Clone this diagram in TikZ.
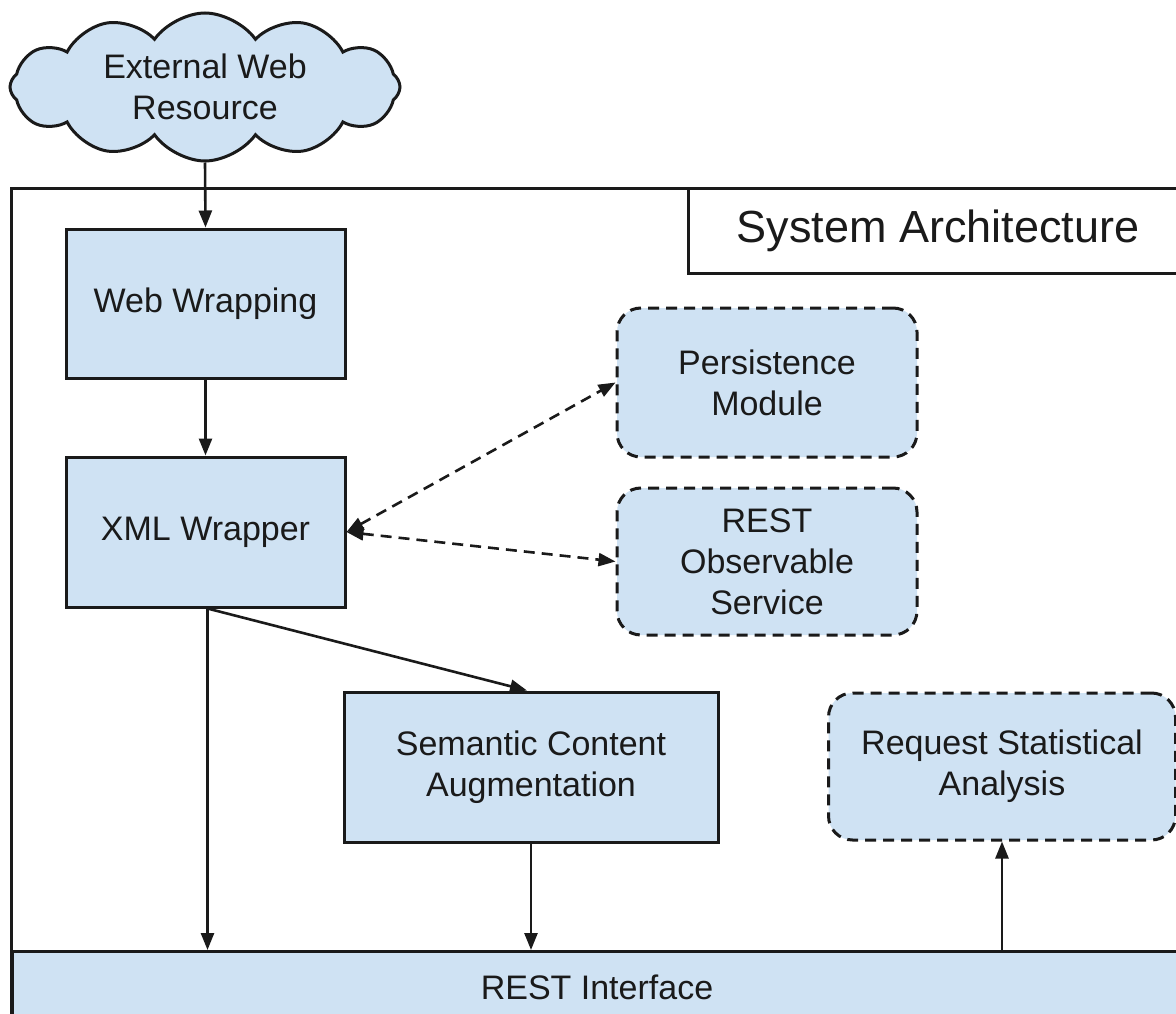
\documentclass[tikz,border=0pt]{standalone}
\usepackage{fontspec}
\setmainfont{Liberation Sans}
\usetikzlibrary{shapes.symbols,arrows.meta,calc}
\definecolor{boxfill}{HTML}{CFE2F3}
\definecolor{ink}{HTML}{1A1A1A}
\begin{document}
\begin{tikzpicture}[x=1pt,y=-1pt,
  font=\fontsize{34}{41}\selectfont,
  box/.style={draw=ink, line width=3pt, fill=boxfill, text=ink, align=center, inner sep=0pt},
  dashbox/.style={box, rounded corners=24pt, dash pattern=on 11pt off 7pt, line width=3pt},
  tip/.tip={Triangle[length=17pt,width=13pt]},
  arr/.style={draw=ink, line width=2.6pt, -tip},
  darr/.style={draw=ink, line width=2.6pt, dash pattern=on 11pt off 7pt, tip-tip},
]
\useasboundingbox (0,0) rectangle (1176,1014);
\clip (0,0) rectangle (1176,1014);
\fill[white] (0,0) rectangle (1176,1014);

% outer frame
\draw[ink, line width=3pt] (11,189) rectangle (1220,1060);
% title box
\draw[ink, line width=3pt] (688,189) rectangle (1220,273);
\node[text=ink, font=\fontsize{45}{50}\selectfont] (title) at (938,231) {System Architecture};

% cloud
\node[cloud, cloud puffs=12, cloud puff arc=110, aspect=2.6, draw=ink, line width=3pt,
      fill=boxfill, text=ink, align=center, minimum width=390pt, minimum height=148pt, inner sep=0pt]
      (cloud) at (205,87) {External Web\\Resource};

% blocks
\node[box, minimum width=279pt, minimum height=149pt] (web) at (205.5,303.5) {Web Wrapping};
\node[box, minimum width=279pt, minimum height=150pt] (xml) at (205.5,532) {XML Wrapper};
\node[dashbox, minimum width=300pt, minimum height=149pt] (persist) at (767,382.5) {Persistence\\Module};
\node[dashbox, minimum width=300pt, minimum height=147pt] (restobs) at (767,561.5) {REST\\Observable\\Service};
\node[box, minimum width=374pt, minimum height=150pt] (sem) at (531,767) {Semantic Content\\Augmentation};
\node[dashbox, minimum width=347pt, minimum height=147pt] (req) at (1002,766.5) {Request Statistical\\Analysis};
\node[box, minimum width=1200pt, minimum height=90pt, anchor=north west] (restif) at (11,950) {};
\node[text=ink] (restlabel) at (597,987) {REST Interface};

% helper coordinates
\coordinate (xs) at ($(xml.south)+(2,0)$);
\coordinate (xe) at (xs |- restif.north);
\coordinate (sn) at ($(sem.north)+(-4,0)$);

% connectors
\draw[arr] (cloud.south) -- (web.north);
\draw[arr] (web.south) -- (xml.north);
\draw[arr] (xs) -- (xe);
\draw[arr] (xs) -- (sn);
\draw[arr] (sem.south) -- (sem.south |- restif.north);
\draw[arr] (req.south |- restif.north) -- (req.south);
\draw[darr] (xml.east) -- (persist.west);
\draw[darr] (xml.east) -- (restobs.west);
\end{tikzpicture}
\end{document}
